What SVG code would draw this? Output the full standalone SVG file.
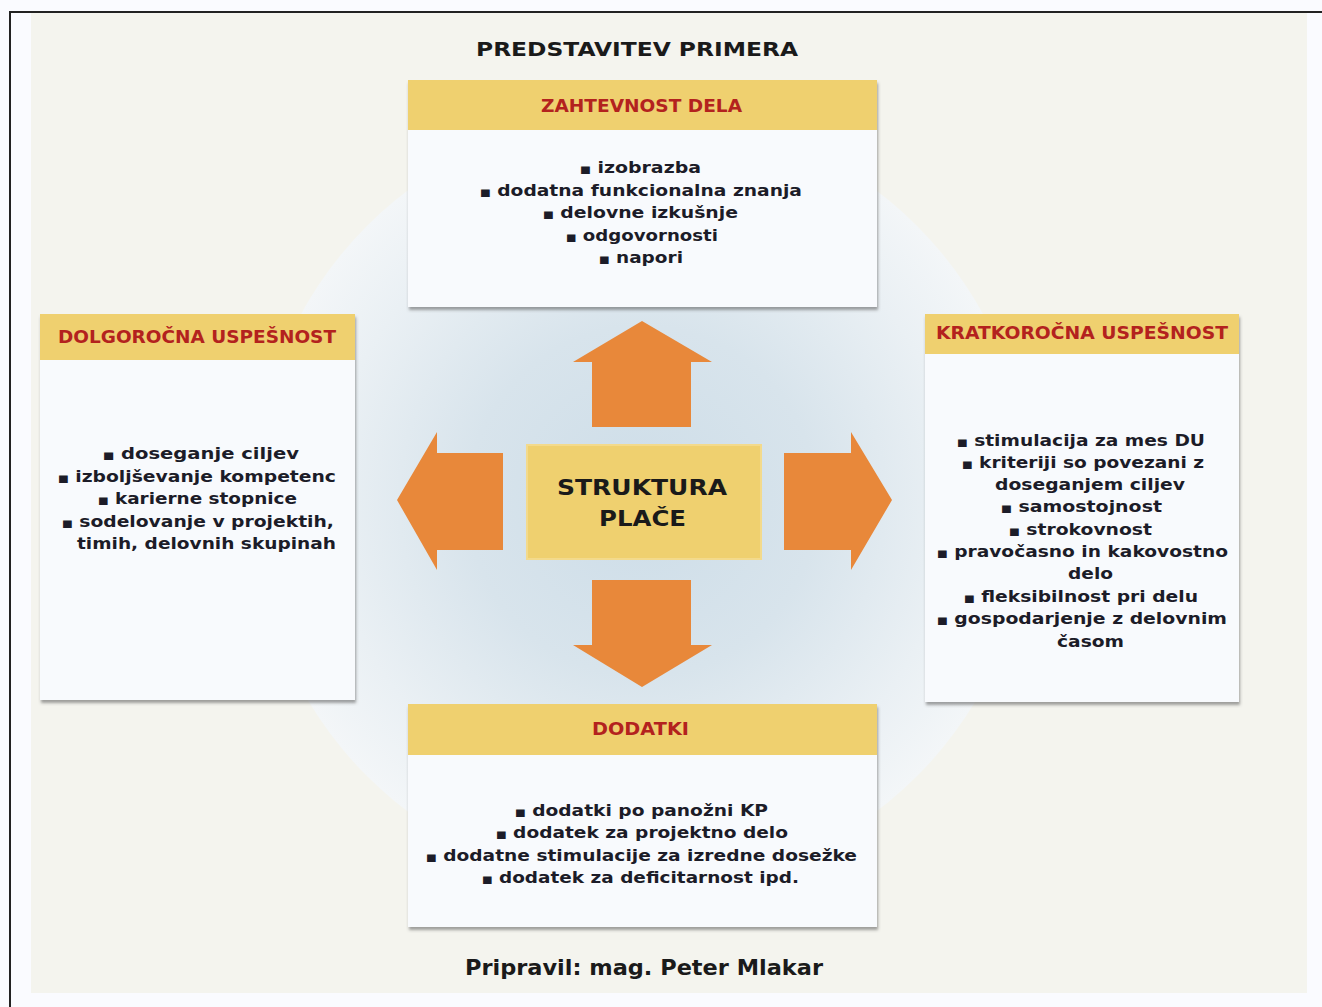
<svg xmlns="http://www.w3.org/2000/svg" width="1322" height="1007" viewBox="0 0 1322 1007">
<defs>
<radialGradient id="glow" cx="642" cy="501" r="389" gradientUnits="userSpaceOnUse">
<stop offset="0" stop-color="#cddde8"/>
<stop offset="0.45" stop-color="#d8e4ec"/>
<stop offset="0.8" stop-color="#eaf0f4"/>
<stop offset="1" stop-color="#f3f6f8"/>
</radialGradient>
<filter id="sh" x="-5%" y="-5%" width="112%" height="115%">
<feDropShadow dx="1" dy="3" stdDeviation="1.6" flood-color="#555" flood-opacity="0.55"/>
</filter>
</defs>
<style>
.hdr{fill:#efd06f}
.body{fill:#f8fafd}
.ht{font-family:"DejaVu Sans",Verdana,sans-serif;font-weight:bold;font-size:17px;fill:#b3221e}
.bt{font-family:"DejaVu Sans",Verdana,sans-serif;font-weight:bold;font-size:16.5px;fill:#1c1c28}
.bu{font-size:10px}
.arrow{fill:#e8883a}
.big{font-family:"DejaVu Sans",Verdana,sans-serif;font-weight:bold;fill:#1a1a1a}
</style>
<rect x="0" y="0" width="1322" height="1007" fill="#fafbff"/>
<rect x="31" y="13" width="1276" height="980" fill="#f4f4ee"/>
<path d="M10 1007 V12 H1322" fill="none" stroke="#222" stroke-width="2"/>
<circle cx="642" cy="501" r="389" fill="url(#glow)"/>
<text class="big" x="476" y="56" font-size="19" textLength="322" lengthAdjust="spacingAndGlyphs">PREDSTAVITEV PRIMERA</text>

<g id="connectors">
<path class="arrow" d="M642 321 L712 362 L691 362 L691 427 L592 427 L592 362 L573 362 Z"/>
<path class="arrow" d="M642 687 L712 645 L691 645 L691 580 L592 580 L592 645 L573 645 Z"/>
<path class="arrow" d="M397 500 L437 432 L437 453 L503 453 L503 550 L437 550 L437 570 Z"/>
<path class="arrow" d="M892 500 L851 432 L851 453 L784 453 L784 550 L851 550 L851 570 Z"/>
</g>

<g id="center">
<rect x="527" y="445" width="234" height="114" fill="#efd06f" stroke="#f3da8c" stroke-width="2"/>
<text class="big" x="557" y="495" font-size="22" textLength="170" lengthAdjust="spacingAndGlyphs">STRUKTURA</text>
<text class="big" x="599" y="526" font-size="22" textLength="87" lengthAdjust="spacingAndGlyphs">PLAČE</text>
</g>

<g id="zahtevnost">
<g filter="url(#sh)">
<rect class="body" x="408" y="80" width="469" height="227"/>
</g>
<rect class="hdr" x="408" y="80" width="469" height="50"/>
<text class="ht" x="541" y="112" textLength="201" lengthAdjust="spacingAndGlyphs">ZAHTEVNOST DELA</text>
<text class="bt" x="580" y="173" textLength="121" lengthAdjust="spacingAndGlyphs"><tspan class="bu">■</tspan> izobrazba</text>
<text class="bt" x="480" y="196" textLength="322" lengthAdjust="spacingAndGlyphs"><tspan class="bu">■</tspan> dodatna funkcionalna znanja</text>
<text class="bt" x="543" y="218" textLength="195" lengthAdjust="spacingAndGlyphs"><tspan class="bu">■</tspan> delovne izkušnje</text>
<text class="bt" x="566" y="241" textLength="152" lengthAdjust="spacingAndGlyphs"><tspan class="bu">■</tspan> odgovornosti</text>
<text class="bt" x="599" y="263" textLength="84" lengthAdjust="spacingAndGlyphs"><tspan class="bu">■</tspan> napori</text>
</g>

<g id="dolgorocna">
<g filter="url(#sh)">
<rect class="body" x="40" y="314" width="315" height="386"/>
</g>
<rect class="hdr" x="40" y="314" width="315" height="46"/>
<text class="ht" x="58" y="343" textLength="278" lengthAdjust="spacingAndGlyphs">DOLGOROČNA USPEŠNOST</text>
<text class="bt" x="103" y="459" textLength="196" lengthAdjust="spacingAndGlyphs"><tspan class="bu">■</tspan> doseganje ciljev</text>
<text class="bt" x="58" y="482" textLength="278" lengthAdjust="spacingAndGlyphs"><tspan class="bu">■</tspan> izboljševanje kompetenc</text>
<text class="bt" x="98" y="504" textLength="199" lengthAdjust="spacingAndGlyphs"><tspan class="bu">■</tspan> karierne stopnice</text>
<text class="bt" x="62" y="527" textLength="272" lengthAdjust="spacingAndGlyphs"><tspan class="bu">■</tspan> sodelovanje v projektih,</text>
<text class="bt" x="77" y="549" textLength="259" lengthAdjust="spacingAndGlyphs">timih, delovnih skupinah</text>
</g>

<g id="kratkorocna">
<g filter="url(#sh)">
<rect class="body" x="925" y="314" width="314" height="388"/>
</g>
<rect class="hdr" x="925" y="314" width="314" height="40"/>
<text class="ht" x="936" y="339" textLength="292" lengthAdjust="spacingAndGlyphs">KRATKOROČNA USPEŠNOST</text>
<text class="bt" x="957" y="446" textLength="248" lengthAdjust="spacingAndGlyphs"><tspan class="bu">■</tspan> stimulacija za mes DU</text>
<text class="bt" x="962" y="468" textLength="242" lengthAdjust="spacingAndGlyphs"><tspan class="bu">■</tspan> kriteriji so povezani z</text>
<text class="bt" x="995" y="490" textLength="190" lengthAdjust="spacingAndGlyphs">doseganjem ciljev</text>
<text class="bt" x="1001" y="512" textLength="161" lengthAdjust="spacingAndGlyphs"><tspan class="bu">■</tspan> samostojnost</text>
<text class="bt" x="1009" y="535" textLength="143" lengthAdjust="spacingAndGlyphs"><tspan class="bu">■</tspan> strokovnost</text>
<text class="bt" x="937" y="557" textLength="291" lengthAdjust="spacingAndGlyphs"><tspan class="bu">■</tspan> pravočasno in kakovostno</text>
<text class="bt" x="1068" y="579" textLength="45" lengthAdjust="spacingAndGlyphs">delo</text>
<text class="bt" x="964" y="602" textLength="234" lengthAdjust="spacingAndGlyphs"><tspan class="bu">■</tspan> fleksibilnost pri delu</text>
<text class="bt" x="937" y="624" textLength="290" lengthAdjust="spacingAndGlyphs"><tspan class="bu">■</tspan> gospodarjenje z delovnim</text>
<text class="bt" x="1057" y="647" textLength="67" lengthAdjust="spacingAndGlyphs">časom</text>
</g>

<g id="dodatki">
<g filter="url(#sh)">
<rect class="body" x="408" y="704" width="469" height="223"/>
</g>
<rect class="hdr" x="408" y="704" width="469" height="51"/>
<text class="ht" x="592" y="735" textLength="97" lengthAdjust="spacingAndGlyphs">DODATKI</text>
<text class="bt" x="515" y="816" textLength="253" lengthAdjust="spacingAndGlyphs"><tspan class="bu">■</tspan> dodatki po panožni KP</text>
<text class="bt" x="496" y="838" textLength="292" lengthAdjust="spacingAndGlyphs"><tspan class="bu">■</tspan> dodatek za projektno delo</text>
<text class="bt" x="426" y="861" textLength="431" lengthAdjust="spacingAndGlyphs"><tspan class="bu">■</tspan> dodatne stimulacije za izredne dosežke</text>
<text class="bt" x="482" y="883" textLength="317" lengthAdjust="spacingAndGlyphs"><tspan class="bu">■</tspan> dodatek za deficitarnost ipd.</text>
</g>

<text class="big" x="465" y="975" font-size="22" textLength="358" lengthAdjust="spacingAndGlyphs">Pripravil: mag. Peter Mlakar</text>
</svg>
